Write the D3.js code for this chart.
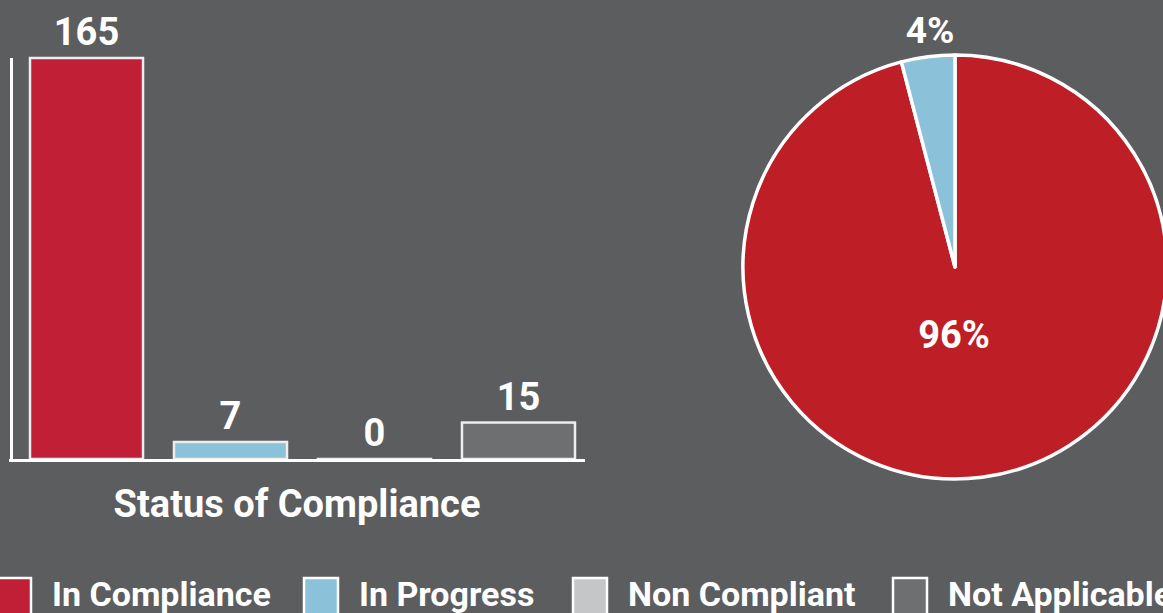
<!DOCTYPE html>
<html>
<head>
<meta charset="utf-8">
<script src="https://cdn.jsdelivr.net/npm/d3@7"></script>
<style>
  html, body { margin: 0; padding: 0; background: #5c5d5f; overflow: hidden; }
  svg { display: block; font-family: Roboto, "Noto Sans", sans-serif; font-weight: 700; }
</style>
</head>
<body>
<svg id="chart" width="1163" height="613"></svg>
<script>
// data
let categories = ["In Compliance", "In Progress", "Non Compliant", "Not Applicable"];
let counts = [165, 7, 0, 15];
let colors = ["#c01f35", "#8bc1d9", "#c5c6c8", "#6d6f71"];
let pieCategories = ["In Compliance", "In Progress"];
let pieColors = ["#be1f26", "#8bc1d9"];
let chartTitle = "Status of Compliance";

let svg = d3.select("#chart");

// ---- bar chart ----
let xScale = d3.scaleBand()
  .domain(categories)
  .range([30, 575])
  .paddingInner(0.215)
  .paddingOuter(0);

let yScale = d3.scaleLinear()
  .domain([0, 165])
  .range([459, 58]);

let bars = svg.append("g");

bars.selectAll("rect")
  .data(categories)
  .enter()
  .append("rect")
  .attr("x", d => xScale(d))
  .attr("width", xScale.bandwidth())
  .attr("y", (d, i) => yScale(counts[i]))
  .attr("height", (d, i) => Math.max(0.5, yScale(0) - yScale(counts[i])))
  .attr("fill", (d, i) => colors[i])
  .attr("stroke", "#eeeeee")
  .attr("stroke-width", 2.5);

bars.selectAll("text")
  .data(categories)
  .enter()
  .append("text")
  .attr("x", d => xScale(d) + xScale.bandwidth() / 2)
  .attr("y", (d, i) => yScale(counts[i]) - 13)
  .attr("text-anchor", "middle")
  .attr("fill", "#ffffff")
  .attr("font-size", 38)
  .text((d, i) => counts[i]);

// axes as plain lines (no ticks in the picture)
svg.append("line")
  .attr("x1", 11.5).attr("x2", 11.5)
  .attr("y1", yScale(165)).attr("y2", yScale(0) + 3)
  .attr("stroke", "#ffffff").attr("stroke-width", 3);

svg.append("line")
  .attr("x1", 9).attr("x2", 585)
  .attr("y1", yScale(0) + 1.5).attr("y2", yScale(0) + 1.5)
  .attr("stroke", "#ffffff").attr("stroke-width", 3);

svg.append("text")
  .attr("x", 297)
  .attr("y", 517)
  .attr("text-anchor", "middle")
  .attr("fill", "#ffffff")
  .attr("font-size", 38)
  .text(chartTitle);

// ---- pie ----
let pieData = pieCategories.map(c => counts[categories.indexOf(c)]);
let total = d3.sum(pieData);
let radius = 212;
let pieG = svg.append("g").attr("transform", "translate(955,267)");

let pie = d3.pie().sort(null)(pieData);
let arc = d3.arc().innerRadius(0).outerRadius(radius);

pieG.selectAll("path")
  .data(pie)
  .enter()
  .append("path")
  .attr("d", arc)
  .attr("fill", (d, i) => pieColors[i])
  .attr("stroke", "#ffffff")
  .attr("stroke-width", 3.5)
  .attr("stroke-linejoin", "round");

let pct = d => Math.round(d.value / total * 100) + "%";

// big slice label inside, small slice label outside
pieG.append("text")
  .attr("x", -1)
  .attr("y", 81)
  .attr("text-anchor", "middle")
  .attr("fill", "#ffffff")
  .attr("font-size", 38)
  .text(pct(pie[0]));

pieG.append("text")
  .attr("x", -25)
  .attr("y", -224)
  .attr("text-anchor", "middle")
  .attr("fill", "#ffffff")
  .attr("font-size", 37)
  .text(pct(pie[1]));

// ---- legend ----
let legendX = [-3, 304, 573, 893];
let legend = svg.append("g");
let items = legend.selectAll("g")
  .data(categories)
  .enter()
  .append("g")
  .attr("transform", (d, i) => `translate(${legendX[i]},578)`);

items.append("rect")
  .attr("width", 34)
  .attr("height", 40)
  .attr("fill", (d, i) => colors[i])
  .attr("stroke", "#ffffff")
  .attr("stroke-width", 2.5);

items.append("text")
  .attr("x", 55)
  .attr("y", 28)
  .attr("fill", "#ffffff")
  .attr("font-size", 34)
  .text(d => d);
</script>
</body>
</html>
